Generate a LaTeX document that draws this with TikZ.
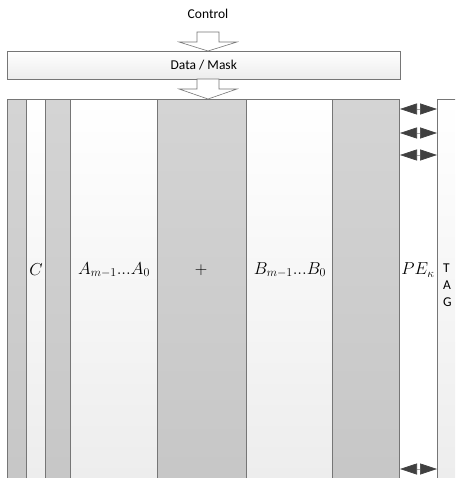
\documentclass[tikz,border=0pt]{standalone}
\usepackage{fontspec}
\setmainfont{Carlito}
\usetikzlibrary{arrows.meta}
\DeclareMathSizes{16}{16}{13}{10}

\definecolor{linegray}{HTML}{767676}
\definecolor{colgrayA}{HTML}{D4D4D4}
\definecolor{colgrayB}{HTML}{C6C6C6}
\definecolor{colwhiteB}{HTML}{ECECEC}
\definecolor{busgray}{HTML}{404040}

\tikzset{
  graycol/.style={draw=linegray, line width=1pt, top color=colgrayA, bottom color=colgrayB,
    minimum height=400pt, inner sep=0pt, anchor=north west},
  whitecol/.style={draw=linegray, line width=1pt, top color=white, bottom color=colwhiteB,
    minimum height=400pt, inner sep=0pt, anchor=north west},
  blockarrow/.style={draw=linegray, fill=white, line width=0.6pt},
  bus/.style={{Triangle[length=17pt,width=11pt,color=busgray]}-{Triangle[length=17pt,width=11pt,color=busgray]},
    draw=busgray!45, line width=0.6pt},
  collabel/.style={font=\fontsize{16}{18}\selectfont, inner sep=0pt}
}

\begin{document}
\begin{tikzpicture}[x=1pt,y=-1pt]
        \clip (0,0) rectangle (455,478);
        \fill[white] (0,0) rectangle (455,478);

        % Control and data/mask register
        \node[font=\fontsize{13.5}{16}\selectfont] (ctrl) at (208,14) {Control};
        \node[draw=linegray, line width=0.6pt, top color=white, bottom color=colwhiteB,
              minimum width=393pt, minimum height=28pt, inner sep=0pt, anchor=north west,
              font=\fontsize{13.5}{16}\selectfont]
              (mask) at (7,51) {Data / Mask};

        % Columns of the processing element
        \foreach \n/\x/\w/\s in {cA/7/19/graycol, cC/26/19/whitecol, cB/45/25/graycol,
                                 cAreg/70/87/whitecol, cPlus/157/89/graycol,
                                 cBreg/246/86/whitecol, cOut/332/67/graycol,
                                 tag/437/70/whitecol}
          \node[\s, minimum width=\w] (\n) at (\x,99) {};

        % Labels
        \node[collabel] (lC) at (36,270) {$C$};
        \node[collabel] (lA) at (114,270) {$A_{m-1}...A_0$};
        \node[collabel] (lP) at (201,270) {$+$};
        \node[collabel] (lB) at (290,270) {$B_{m-1}...B_0$};
        \node[collabel] (lPE) at (418,270) {$PE_\kappa$};
        \node[align=left, anchor=west, inner sep=0pt, font=\fontsize{13.5}{17}\selectfont]
              (ltag) at (443,285) {T\\A\\G};

        % Block arrows
        \coordinate (a1) at (208,32);
        \coordinate (a2) at (208,79);
        \foreach \c/\t in {a1/mask.north, a2/cPlus.north}
          \draw[blockarrow] ([xshift=-11pt]\c) -- ([xshift=11pt]\c)
            -- ([xshift=11pt,yshift=-10pt]\c) -- ([xshift=29pt,yshift=-10pt]\c)
            -- (\t -| \c) -- ([xshift=-29pt,yshift=-10pt]\c)
            -- ([xshift=-11pt,yshift=-10pt]\c) -- cycle;

        % Buses to the tag column
        \foreach \y in {109,133,155,469}
          \draw[bus] (cOut.east |- 0,\y) -- (tag.west |- 0,\y);
\end{tikzpicture}
\end{document}
